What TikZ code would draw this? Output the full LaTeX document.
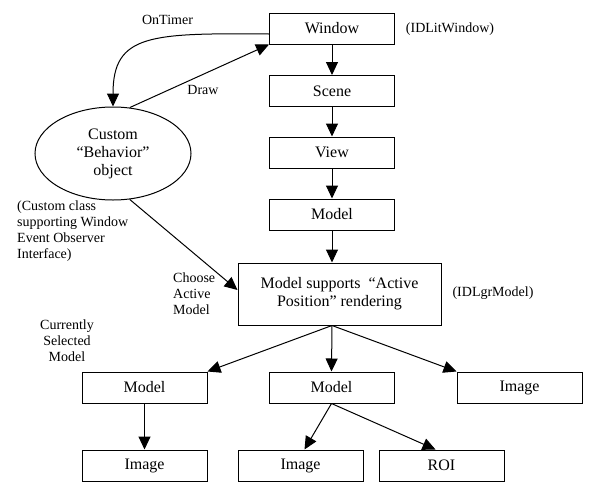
\documentclass[tikz,border=0pt]{standalone}
\usepackage{fontspec}
\setmainfont{Liberation Serif}
\usetikzlibrary{arrows.meta,shapes.geometric,calc}
\begin{document}
\begin{tikzpicture}[x=1pt,y=-1pt,
  boxfont/.style={font=\fontsize{16}{18}\selectfont},
  lblfont/.style={font=\fontsize{14}{16}\selectfont},
  box/.style={draw,line width=1pt,minimum width=125pt,minimum height=31pt,inner sep=0pt,boxfont},
  lbl/.style={inner sep=0pt,lblfont},
  arr/.style={line width=1pt,-{Triangle[length=13pt,width=12pt]}}]
\useasboundingbox (0,0) rectangle (597,493);
\node[box] (window) at (332,28.5) {Window};
\node[box] (scene) at (332,91) {Scene};
\node[box] (view) at (332,152.5) {View};
\node[box] (model) at (332,214.5) {Model};
\node[box,minimum width=203pt,minimum height=62pt,align=center] (main) at (339.5,294) {Model supports\ \ “Active\\Position” rendering};
\node[box] (modelL) at (144.5,387.5) {Model};
\node[box] (modelM) at (331.5,387.5) {Model};
\node[box] (imageR) at (519.5,387.5) {Image};
\node[box] (imageL) at (144.5,465.5) {Image};
\node[box] (imageM) at (300.5,465.5) {Image};
\node[box] (roi) at (441.5,465.5) {ROI};
\node[draw,ellipse,line width=1pt,minimum width=156pt,minimum height=93pt,inner sep=0pt,align=center,boxfont] (beh) at (113,153.5) {Custom\\“Behavior”\\object};

\node[lbl] (ontimer) at (167.5,20) {OnTimer};
\node[lbl] (drawlbl) at (203,90) {Draw};
\node[lbl] (idlw) at (450,29) {(IDLitWindow)};
\node[lbl] (idlg) at (493,293) {(IDLgrModel)};
\node[lbl,anchor=west,align=left] (cc) at (17,231) {(Custom class\\supporting Window\\Event Observer\\Interface)};
\node[lbl,anchor=west,align=left] (choose) at (173,294) {Choose\\Active\\Model};
\node[lbl,align=center] (cur) at (67,341) {Currently\\Selected\\Model};

\draw[arr] (window.south) -- (scene.north);
\draw[arr] (scene.south) -- (view.north);
\draw[arr] (view.south) -- (model.north);
\draw[arr] (model.south) -- (window |- main.north);
\coordinate (mb) at (window |- main.south);
\draw[arr] (mb) -- (modelL.north east);
\draw[arr] (mb) -- (modelM.north);
\draw[arr] (mb) -- (imageR.north west);
\draw[arr] (modelL.south) -- (imageL.north);
\draw[arr] (modelM.south) -- ([xshift=4pt]imageM.north);
\draw[arr] (modelM.south) -- ([xshift=-6pt]roi.north);

\draw[arr] ([yshift=-5.5pt]window.west) .. controls (150,33) and (113,34) .. (beh.north);
\draw[arr] (beh.70) -- (window.south west);
\draw[arr] (beh.-70) -- ([yshift=4pt]main.west);
\end{tikzpicture}
\end{document}
